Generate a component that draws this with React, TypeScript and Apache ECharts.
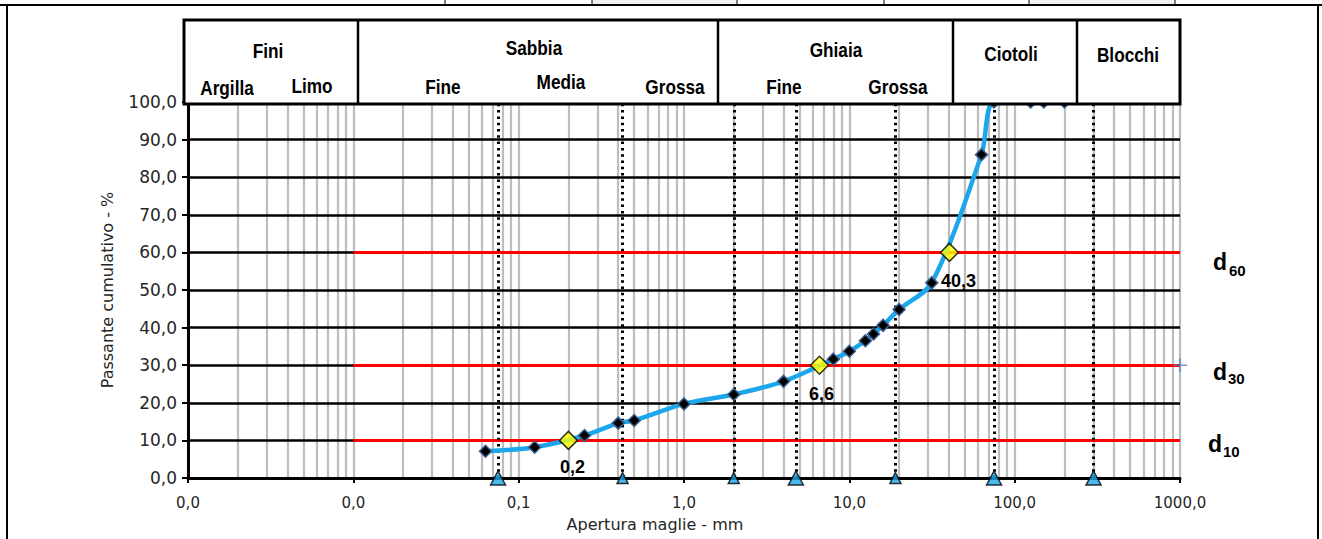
import React, { useEffect, useRef } from "react";
import * as echarts from "echarts";

// ---- data ----
const sieveSizes = [0.063, 0.125, 0.25, 0.4, 0.5, 1, 2, 4, 8, 10, 12.5, 14, 16, 20, 31.5, 63, 75, 125, 150, 200];
const passing = [7.1, 8.2, 11.3, 14.6, 15.3, 19.7, 22.2, 25.7, 31.6, 33.7, 36.5, 38.3, 40.6, 44.8, 51.9, 86.0, 100, 100, 100, 100];
const dLevels = [10, 30, 60];
const dDiameters = [0.2, 6.6, 40.3];
const dNames = ["10", "30", "60"];
const mainBoundaries = [0.075, 4.75, 75, 300];
const subBoundaries = [0.425, 2, 19];
const extraPoint = [1000, 30];
const xRange = [0.001, 1000];
const yRange = [0, 100];
const redLineStart = 0.01;

const headerGroups = ["Fini", "Sabbia", "Ghiaia", "Ciotoli", "Blocchi"];
const headerSubs = ["Argilla", "Limo", "Fine", "Media", "Grossa", "Fine", "Grossa"];

const fmt = (v: number) => Number(v).toFixed(1).replace(".", ",");

// log grid positions (1..9 x 10^k)
const minorValues: number[] = [];
for (let k = -3; k <= 2; k++) {
  for (let m = 1; m <= 9; m++) minorValues.push(m * Math.pow(10, k));
}
minorValues.push(1000);

const TXT = "#262626";
const AXFONT = "DejaVu Sans";
const BLUE = "#1ca7ec";

export default function App() {
  const ref = useRef<HTMLDivElement>(null);
  useEffect(() => {
    if (!ref.current) return;
    const chart = echarts.init(ref.current, undefined, { renderer: "svg" });

    const hdrFont = "bold 21px 'Liberation Sans', Arial, sans-serif";
    const hText = (text: string, x: number, y: number) => ({
      type: "text",
      x,
      y,
      scaleX: 0.82,
      z: 101,
      style: { text, font: hdrFont, fill: "#000", textAlign: "center", textVerticalAlign: "middle" },
    });
    const vline = (x: number, y1: number, y2: number, w: number, z = 101) => ({
      type: "line",
      z,
      shape: { x1: x, y1, x2: x, y2 },
      style: { stroke: "#000", lineWidth: w },
    });
    const dLabel = (i: number, x: number, y: number, sx: number, sy: number) => [
      {
        type: "text",
        x,
        y,
        z: 101,
        style: { text: "d", font: "bold 23px 'Liberation Sans', Arial, sans-serif", fill: "#000", textAlign: "left", textVerticalAlign: "middle" },
      },
      {
        type: "text",
        x: sx,
        y: sy,
        z: 101,
        style: { text: dNames[i], font: "bold 15px 'Liberation Sans', Arial, sans-serif", fill: "#000", textAlign: "left", textVerticalAlign: "middle" },
      },
    ];

    const graphic: any[] = [
      // page frame
      { type: "rect", z: 100, shape: { x: 592, y: 0, width: 145, height: 5 }, style: { fill: "#f0f0f0" } },
      { type: "rect", z: 100, shape: { x: 1029, y: 0, width: 146, height: 5 }, style: { fill: "#f0f0f0" } },
      { type: "line", z: 101, shape: { x1: 0, y1: 5, x2: 1322, y2: 5 }, style: { stroke: "#000", lineWidth: 2 } },
      ...[445, 592, 737, 884, 1029, 1175].map((x) => vline(x, 0, 5, 1)),
      vline(7, 5, 539, 2),
      vline(1318, 5, 539, 2),
      // header table
      { type: "rect", z: 100, shape: { x: 184, y: 20, width: 996, height: 84 }, style: { fill: "#fff", stroke: "#000", lineWidth: 3 } },
      ...[358, 718, 953, 1077].map((x) => vline(x, 20, 104, 2.5)),
      hText(headerGroups[0], 268, 51),
      hText(headerGroups[1], 534, 48),
      hText(headerGroups[2], 836, 50),
      hText(headerGroups[3], 1011, 54),
      hText(headerGroups[4], 1128, 55),
      hText(headerSubs[0], 227, 88),
      hText(headerSubs[1], 312, 86),
      hText(headerSubs[2], 443, 87),
      hText(headerSubs[3], 561, 82),
      hText(headerSubs[4], 675, 87),
      hText(headerSubs[5], 784, 87),
      hText(headerSubs[6], 898, 87),
      // d labels
      ...dLabel(2, 1213, 262, 1229, 270),
      ...dLabel(1, 1213, 372, 1228, 378),
      ...dLabel(0, 1208, 444, 1223, 451),
    ];

    const dLabelOffsets = [
      [4, 27],
      [2, 29],
      [9, 29],
    ];

    chart.setOption({
      animation: false,
      backgroundColor: "#fff",
      grid: { left: 188, right: 142, top: 102, bottom: 61, containLabel: false, outerBoundsMode: "none" },
      xAxis: {
        type: "log",
        logBase: 10,
        min: xRange[0],
        max: xRange[1],
        z: 3,
        axisLine: { show: true, onZero: false, lineStyle: { color: "#000", width: 3 } },
        axisTick: { show: true, length: 5, lineStyle: { color: "#000", width: 2 } },
        axisLabel: { formatter: (v: number) => fmt(v), color: TXT, fontFamily: AXFONT, fontSize: 15, margin: 17 },
        splitLine: { show: false },
        minorTick: { show: false },
        name: "Apertura maglie - mm",
        nameLocation: "middle",
        nameGap: 38,
        nameTextStyle: { fontFamily: AXFONT, fontSize: 16, color: TXT, padding: [0, 58, 0, 0] },
      },
      yAxis: {
        type: "value",
        min: yRange[0],
        max: yRange[1],
        interval: 10,
        z: 2,
        axisLine: { show: true, lineStyle: { color: "#000", width: 3 } },
        axisTick: { show: true, length: 6, lineStyle: { color: "#000", width: 2 } },
        axisLabel: { formatter: (v: number) => fmt(v), color: TXT, fontFamily: AXFONT, fontSize: 17, margin: 11 },
        splitLine: { show: true, lineStyle: { color: "#000", width: 2.6 } },
        name: "Passante cumulativo - %",
        nameLocation: "middle",
        nameGap: 73,
        nameTextStyle: { fontFamily: AXFONT, fontSize: 16, color: TXT },
      },
      series: [
        {
          type: "line",
          data: [],
          silent: true,
          markLine: {
            silent: true,
            z: 1,
            precision: 8,
            symbol: ["none", "none"],
            label: { show: false },
            lineStyle: { color: "#bdbdbd", width: 2.2, type: "solid" },
            data: minorValues.map((v) => ({ xAxis: v })),
          },
        },
        {
          type: "line",
          data: [],
          silent: true,
          markLine: {
            silent: true,
            z: 3,
            precision: 8,
            symbol: ["none", "none"],
            label: { show: false },
            lineStyle: { color: "#ff0000", width: 3, type: "solid" },
            data: dLevels.map((l) => [{ coord: [redLineStart, l] }, { coord: [xRange[1], l] }]),
          },
        },
        {
          type: "line",
          data: [],
          silent: true,
          markLine: {
            silent: true,
            z: 4,
            precision: 8,
            symbol: ["none", "none"],
            label: { show: false },
            lineStyle: { color: "#000", width: 3, type: [2.5, 3.8] },
            data: [...mainBoundaries, ...subBoundaries].map((v) => ({ xAxis: v })),
          },
        },
        {
          type: "line",
          z: 5,
          data: sieveSizes.map((s, i) => [s, passing[i]]),
          smooth: 0.3,
          symbol: "diamond",
          symbolSize: 12,
          showAllSymbol: true,
          lineStyle: { color: BLUE, width: 4.5 },
          itemStyle: { color: "#000", borderColor: "#3a5f8f", borderWidth: 1.5 },
        },
        {
          type: "scatter",
          z: 6,
          data: dDiameters.map((d, i) => ({ value: [d, dLevels[i]], label: { offset: dLabelOffsets[i] } })),
          symbol: "diamond",
          symbolSize: 18,
          itemStyle: { color: "#ffff00", borderColor: "#000", borderWidth: 1.5 },
          label: {
            show: true,
            position: "inside",
            formatter: (p: any) => fmt(p.value[0]),
            fontFamily: "Liberation Sans",
            fontWeight: "bold",
            fontSize: 18,
            color: "#000000",
            opacity: 1,
            textBorderWidth: 0,
            textBorderColor: "transparent",
          },
        },
        {
          type: "scatter",
          z: 7,
          clip: false,
          data: mainBoundaries.map((v) => [v, 0]),
          symbol: "triangle",
          symbolSize: [15, 14],
          itemStyle: { color: BLUE, borderColor: "#000", borderWidth: 1.5 },
        },
        {
          type: "scatter",
          z: 7,
          clip: false,
          data: subBoundaries.map((v) => [v, 0]),
          symbol: "triangle",
          symbolSize: [11, 11],
          itemStyle: { color: BLUE, borderColor: "#000", borderWidth: 1.5 },
        },
        {
          type: "scatter",
          z: 7,
          clip: false,
          data: [extraPoint],
          symbol: "path://M0,4.45H10V5.55H0Z M4.45,0H5.55V10H4.45Z",
          symbolSize: 14,
          itemStyle: { color: "#4a7ebb" },
        },
      ],
      graphic,
    });
    return () => chart.dispose();
  }, []);
  return <div ref={ref} style={{ position: "fixed", left: 0, top: 0, width: 1322, height: 539, background: "#fff" }} />;
}
